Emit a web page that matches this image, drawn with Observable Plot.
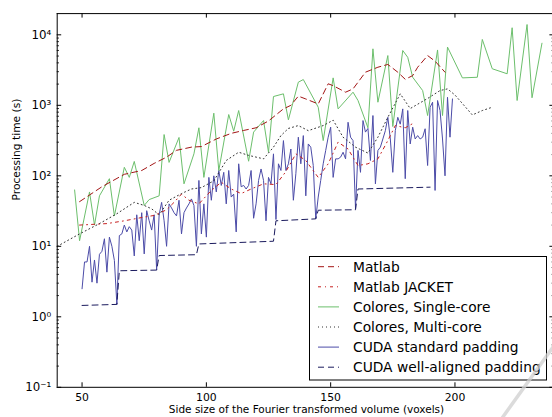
<!DOCTYPE html>
<html><head><meta charset="utf-8">
<script src="https://cdn.jsdelivr.net/npm/d3@7"></script>
<script src="https://cdn.jsdelivr.net/npm/@observablehq/plot@0.6"></script>
<style>
html,body{margin:0;padding:0;background:#fff;}
#wrap{position:relative;width:552px;height:417px;overflow:hidden;font-family:"DejaVu Sans",sans-serif;}
#wrap svg{display:block;}
#legend{position:absolute;left:0;top:0;}
</style></head><body><div id="wrap"></div>
<script>
// ---- data ----
const matlabX = [49,58,67,74,79,84,88,94,98,104,110,115,120,125,131,134,137,140,145,149,151,156,159,164,169,173,177,180,183,185,189,192,196];
const matlabY = [43,70,105,119,150,184,230,255,260,333,400,440,480,600,890,1000,1350,1230,1045,2020,1900,1535,1710,2950,3470,3800,2950,2340,2640,3470,5080,4230,2950];

const jacketX = [49,60,67,75,79,84,87,90,93,97,102,106,110,114,118,123,128,132,136,140,142,145,149,153,157,161,165,169,173,176,180,183];
const jacketY = [20,21,23,26,27.4,33,42,55,45,40,62,81,65,56,65,77,75,115,205,165,132,95,148,300,240,140,148,174,316,516,480,550];

const singleX = [47,49,53,55,57,61,63,67,69,71,75,77,81,83,85,89,91,95,97,99,103,105,109,111,113,117,119,123,125,127,131,133,137,139,145,147,151,153,159,161,165,167,169,173,175,179,181,183,187,189,193,195,197,203,209,211,215,221,223,225,229,231,235];
const singleY = [63,12,59,20,52,91,27,132,95,160,38,46,52,385,155,350,77,205,480,95,773,119,740,430,843,161,417,608,216,1333,1455,622,2130,2320,940,316,2450,890,1535,1170,480,6330,1107,5080,500,5990,4800,2500,1620,716,6100,716,6700,2450,2500,8600,3300,2800,12600,1170,14000,1280,7600];

const multiX = [40,49,57,64,71,75,78,81,85,90,94,98,103,108,113,117,123,127,130,133,137,141,147,151,155,160,165,169,173,178,182,189,194,197,200,207,211,215];
const multiY = [10,15,21,29,42,38,34,28,45,56,65,68,85,165,216,195,174,255,372,470,516,437,516,615,353,255,210,353,676,1455,900,1250,1620,1710,1400,730,843,940];

const stdX = [50,51,52,53,54,55,56,57,58,59,60,61,62,63,64,65,66,67,68,69,70,71,72,73,74,75,76,77,78,79,80,81,82,83,84,85,86,87,88,89,90,91,92,93,94,95,96,97,98,99,100,101,102,103,104,105,106,107,108,109,110,111,112,113,114,115,116,117,118,119,120,121,122,123,124,125,126,127,128,129,130,131,132,133,134,135,136,137,138,139,140,141,142,143,144,145,146,147,148,149,150,151,152,153,154,155,156,157,158,159,160,161,162,163,164,165,166,167,168,169,170,171,172,173,174,175,176,177,178,179,180,181,182,183,184,185,186,187,188,189,190,191,192,193,194,195,196,197,198,199];
const stdY = [2.5,6.0,6.0,10,3.1,6.4,3.0,7.7,8.5,12.8,4.3,13.5,10,6.3,1.5,14.2,15,20,16,19,17,7.3,28,12,30,7.8,32,23,17,28,4.6,28,42,23,10,40,35,30,27,45,15,30,35,40,47,38,10,86,15,40,13.5,95,45,100,59,119,73,112,40,119,50,55,16,148,70,73,65,73,119,25,40,86,125,86,23,95,77,205,24,148,119,316,119,148,240,45,107,353,148,372,52,283,255,140,24.5,50,86,148,229,353,490,95,174,174,184,216,174,575,353,316,34,229,112,608,417,470,165,716,77,229,255,333,437,676,333,112,437,676,540,890,91,843,283,490,333,372,333,353,465,140,940,1107,62,1170,843,333,100,1300,353,1230];

const alignedX = [50,64,65,80,81,96,97,127,128,144,145,160,161,190];
const alignedY = [1.45,1.5,4.5,4.6,7.4,7.6,10.8,11.8,23,24.5,32.5,33,65,69];

const xTicks = [50,100,150,200];
const yTicks = [0.1,1,10,100,1000,10000];
const yTickLabels = ["10\u207B\u00B9","10\u2070","10\u00B9","10\u00B2","10\u00B3","10\u2074"];
const seriesNames = ["Matlab","Matlab JACKET","Colores, Single-core","Colores, Multi-core","CUDA standard padding","CUDA well-aligned padding"];
const xLabel = "Side size of the Fourier transformed volume (voxels)";
const yLabel = "Processing time (s)";

// ---- styles ----
const styles = [
  {stroke:"#a31515", dash:"6,4"},
  {stroke:"#c62020", dash:"3,4,1,4"},
  {stroke:"#6cbf6c", dash:null},
  {stroke:"#333333", dash:"1,3"},
  {stroke:"#4c4ca8", dash:null},
  {stroke:"#1b1b5e", dash:"6,4"}
];

const zip = (xs, ys) => xs.map((x,i)=>({x, y: ys[i]}));
const series = [
  zip(matlabX, matlabY), zip(jacketX, jacketY), zip(singleX, singleY),
  zip(multiX, multiY), zip(stdX, stdY), zip(alignedX, alignedY)
];

const xDomain = [40,240], yDomain = [0.1, 20000];
const xRange = [56.7, 553.9], yRange = [386.8, 13.1];
const pxPerX = (xRange[1]-xRange[0])/(xDomain[1]-xDomain[0]);
const pxPerDecade = (yRange[0]-yRange[1])/Math.log10(yDomain[1]/yDomain[0]);
const majorLen = 4.5, minorLen = 2.3;
const yMinor = [];
for (const d of yTicks) for (let k=2;k<=9;k++){ const v=d*k; if (v<yDomain[1]) yMinor.push(v); }
const dxData = len => len/pxPerX;
const fy = len => Math.pow(10, len/pxPerDecade);
const xMid = (xDomain[0]+xDomain[1])/2;

const lineMarks = [4,5,2,0,1,3].map(i => Plot.line(series[i], {
  x:"x", y:"y", stroke: styles[i].stroke, strokeWidth: 1,
  strokeDasharray: styles[i].dash || undefined, strokeLinejoin:"round"
}));

const chart = Plot.plot({
  width: 552, height: 417,
  marginLeft: 57, marginRight: 0, marginTop: 13, marginBottom: 30,
  x: {domain: xDomain, range: xRange, axis: null},
  y: {type: "log", domain: yDomain, range: yRange, axis: null},
  style: {fontFamily: "'DejaVu Sans', sans-serif", background: "#fff", overflow: "hidden"},
  marks: [
    ...lineMarks,
    // spines
    Plot.ruleY([yDomain[0], yDomain[1]], {x1: xDomain[0], x2: xDomain[1], stroke: "#000", strokeWidth: 1}),
    Plot.ruleX([xDomain[0], xDomain[1]], {y1: yDomain[0], y2: yDomain[1], stroke: "#000", strokeWidth: 1}),
    // x ticks (bottom and top, inward)
    Plot.ruleX(xTicks, {x: d=>d, y1: yDomain[0], y2: yDomain[0]*fy(majorLen), stroke:"#000"}),
    Plot.ruleX(xTicks, {x: d=>d, y1: yDomain[1], y2: yDomain[1]/fy(majorLen), stroke:"#000"}),
    // y ticks (left and right, inward)
    Plot.ruleY(yTicks, {y: d=>d, x1: xDomain[0], x2: xDomain[0]+dxData(majorLen), stroke:"#000"}),
    Plot.ruleY(yTicks, {y: d=>d, x1: xDomain[1], x2: xDomain[1]-dxData(majorLen), stroke:"#000"}),
    Plot.ruleY(yMinor, {y: d=>d, x1: xDomain[0], x2: xDomain[0]+dxData(minorLen), stroke:"#000", strokeWidth: 0.8}),
    Plot.ruleY(yMinor, {y: d=>d, x1: xDomain[1], x2: xDomain[1]-dxData(minorLen), stroke:"#000", strokeWidth: 0.8}),
    // tick labels
    Plot.text(xTicks, {x: d=>d, y: yDomain[0], dy: 10, text: d=>String(d), fontSize: 10.8, fill:"#000", lineAnchor:"middle"}),
    Plot.text(yTicks, {x: xDomain[0], y: d=>d, dx: -6, textAnchor: "end", text: (d,i)=>yTickLabels[i], fontSize: 11.8, fill:"#000", lineAnchor:"middle"}),
    // axis labels
    Plot.text([xLabel], {x: xMid, y: yDomain[0], dy: 22, dx: 0.7, text: d=>d, fontSize: 10.5, fill:"#000", lineAnchor:"middle"}),
    Plot.text([yLabel], {frameAnchor: "left", dx: -41, rotate: -90, text: d=>d, fontSize: 10.7, fill:"#000", lineAnchor:"middle"})
  ]
});

const wrap = document.getElementById("wrap");
wrap.appendChild(chart);

// ---- legend overlay ----
const ns = "http://www.w3.org/2000/svg";
const lg = document.createElementNS(ns, "svg");
lg.setAttribute("id","legend");
lg.setAttribute("width", 552); lg.setAttribute("height", 417);
const box = {x: 309.5, y: 256.5, w: 237, h: 123.5};
let inner = `<rect x="${box.x}" y="${box.y}" width="${box.w}" height="${box.h}" fill="#fff" stroke="#000" stroke-width="1"/>`;
seriesNames.forEach((name, i) => {
  const cy = 266.7 + i*20.1;
  const s = styles[i];
  inner += `<line x1="318" x2="339" y1="${cy}" y2="${cy}" stroke="${s.stroke}" stroke-width="1" ${s.dash?`stroke-dasharray="${s.dash}"`:""}/>`;
  inner += `<text x="353" y="${cy}" dy="0.35em" font-family="DejaVu Sans" font-size="13.8" fill="#000">${name}</text>`;
});
inner += `<line x1="556" y1="343" x2="500" y2="421" stroke="#d0d0d0" stroke-width="3.5" stroke-linecap="round" opacity="0.75"/>`;
lg.innerHTML = inner;
wrap.appendChild(lg);
</script>
</body></html>
